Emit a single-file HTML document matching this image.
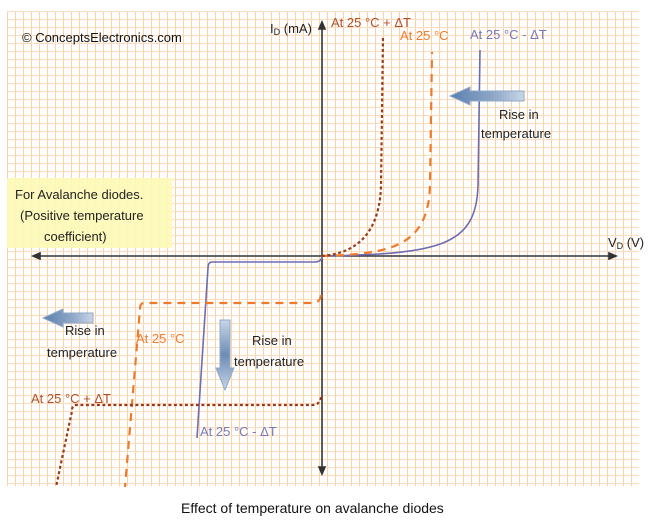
<!DOCTYPE html>
<html><head><meta charset="utf-8"><style>
body{margin:0;background:#fff;}
svg{display:block;font-family:"Liberation Sans","DejaVu Sans",sans-serif;}
</style></head><body>
<svg id="chart" width="659" height="528" viewBox="0 0 659 528" xmlns="http://www.w3.org/2000/svg">
<defs>
<pattern id="grid" x="7" y="11" width="8" height="8" patternUnits="userSpaceOnUse">
<rect x="0" y="0" width="1" height="8" fill="#fbd0a6"/>
<rect x="0" y="0" width="8" height="1" fill="#fcdcbc"/>
</pattern>
<linearGradient id="ag" x1="0" x2="1"><stop offset="0" stop-color="#5b7fae"/><stop offset="0.6" stop-color="#8fa9c8"/><stop offset="1" stop-color="#c8d6e8"/></linearGradient>
<linearGradient id="agv" x1="0" y1="0" x2="0" y2="1"><stop offset="0" stop-color="#c8d6e8"/><stop offset="0.5" stop-color="#6c8cb6"/><stop offset="1" stop-color="#c8d6e8"/></linearGradient>
</defs>
<rect x="7" y="11" width="632" height="475" fill="url(#grid)"/>
<rect x="7" y="178" width="165" height="70" fill="#fdf9b6" opacity="0.9"/>
<text font-size="13" fill="#222"><tspan x="15" y="199">For Avalanche diodes.</tspan><tspan x="20" y="220">(Positive temperature</tspan><tspan x="44" y="241">coefficient)</tspan></text>
<text x="22" y="42" font-size="13" fill="#111">© ConceptsElectronics.com</text>
<g id="axes" stroke="#333" stroke-width="1.6" fill="#333">
<line x1="36" y1="256" x2="612" y2="256"/>
<path d="M33 256 l7 -3 v6z M616 256 l-7 -3 v6z"/>
<line x1="322" y1="26" x2="322" y2="470"/>
<path d="M322 22 l-3 7 h6z M322 474 l-3 -7 h6z"/>
</g>
<text x="270" y="33" font-size="13" fill="#222">I<tspan font-size="9" dy="2">D</tspan><tspan dy="-2"> (mA)</tspan></text>
<text x="608" y="247" font-size="13" fill="#222">V<tspan font-size="9" dy="2">D</tspan><tspan dy="-2"> (V)</tspan></text>
<g id="series"></g>
<g font-size="13">
<text x="331" y="27" fill="#b0502a">At 25 °C + ΔT</text>
<text x="400" y="40" fill="#f07a2a">At 25 °C</text>
<text x="470" y="39" fill="#7a78b8">At 25 °C - ΔT</text>
<text x="136" y="343" fill="#f07a2a">At 25 °C</text>
<text x="31" y="403" fill="#b0502a">At 25 °C + ΔT</text>
<text x="200" y="436" fill="#7a78b8">At 25 °C - ΔT</text>
<text fill="#222"><tspan x="499" y="119">Rise in</tspan><tspan x="481" y="138">temperature</tspan></text>
<text fill="#222"><tspan x="65" y="335">Rise in</tspan><tspan x="47" y="357">temperature</tspan></text>
<text fill="#222"><tspan x="252" y="345">Rise in</tspan><tspan x="234" y="366">temperature</tspan></text>
<text x="181" y="513" font-size="14" fill="#111">Effect of temperature on avalanche diodes</text>
</g>
<path d="M450 96 l20 -9 v4 h54 v10 h-54 v4z" fill="url(#ag)" stroke="#8fa9c8"/>
<path d="M43 318 l20 -9 v4 h30 v10 h-30 v4z" fill="url(#ag)" stroke="#8fa9c8"/>
<path d="M220 320 h10 v48 h4 l-9 22 l-9 -22 h4z" fill="url(#agv)" stroke="#8fa9c8"/>
<script>
// forward knee voltages (px from origin at breakdown), reverse breakdown levels
const seriesNames = ["minus", "nominal", "plus"];
const fwdKnee = [158, 110, 61];
const fwdTop = [50, 52, 36];
const revLevel = [6, 47, 149];
const revEndX = [197, 125, 56];
const revCornerX = [208, 140, 72];
const colors = ["#6e6cb4", "#f07a2a", "#9a3a1a"];
const dashes = ["", "8,6", "3,2.5"];
const ox = 322, oy = 256, bottom = 487;
const g = document.getElementById('series');
const NS = "http://www.w3.org/2000/svg";
for (let i = 0; i < seriesNames.length; i++) {
  const k = ox + fwdKnee[i];
  const fwd = `M${ox} ${oy} C${k - 40} ${oy - 2} ${k - 4} ${oy - 10} ${k - 2} ${oy - 70} L${k} ${fwdTop[i]}`;
  const rl = oy + revLevel[i];
  const start = i === 0 ? `M${ox} ${oy} Q${ox} ${rl} ${ox - 8} ${rl}` : `M${ox - 1} ${rl - 8} Q${ox - 2} ${rl} ${ox - 10} ${rl}`;
  const rev = `${start} L${revCornerX[i] + 4} ${rl} Q${revCornerX[i]} ${rl} ${revCornerX[i]} ${rl + 6} L${revEndX[i]} ${i === 0 ? 438 : bottom}`;
  [fwd, rev].forEach((d, j) => {
    const p = document.createElementNS(NS, 'path');
    p.setAttribute('d', d);
    p.setAttribute('fill', 'none');
    p.setAttribute('stroke', colors[i]);
    p.setAttribute('stroke-width', i === 0 ? 1.6 : 2.2);
    if (dashes[i]) p.setAttribute('stroke-dasharray', dashes[i]);
    
    
    g.appendChild(p);
  });
}
</script>
</svg>
</body></html>
